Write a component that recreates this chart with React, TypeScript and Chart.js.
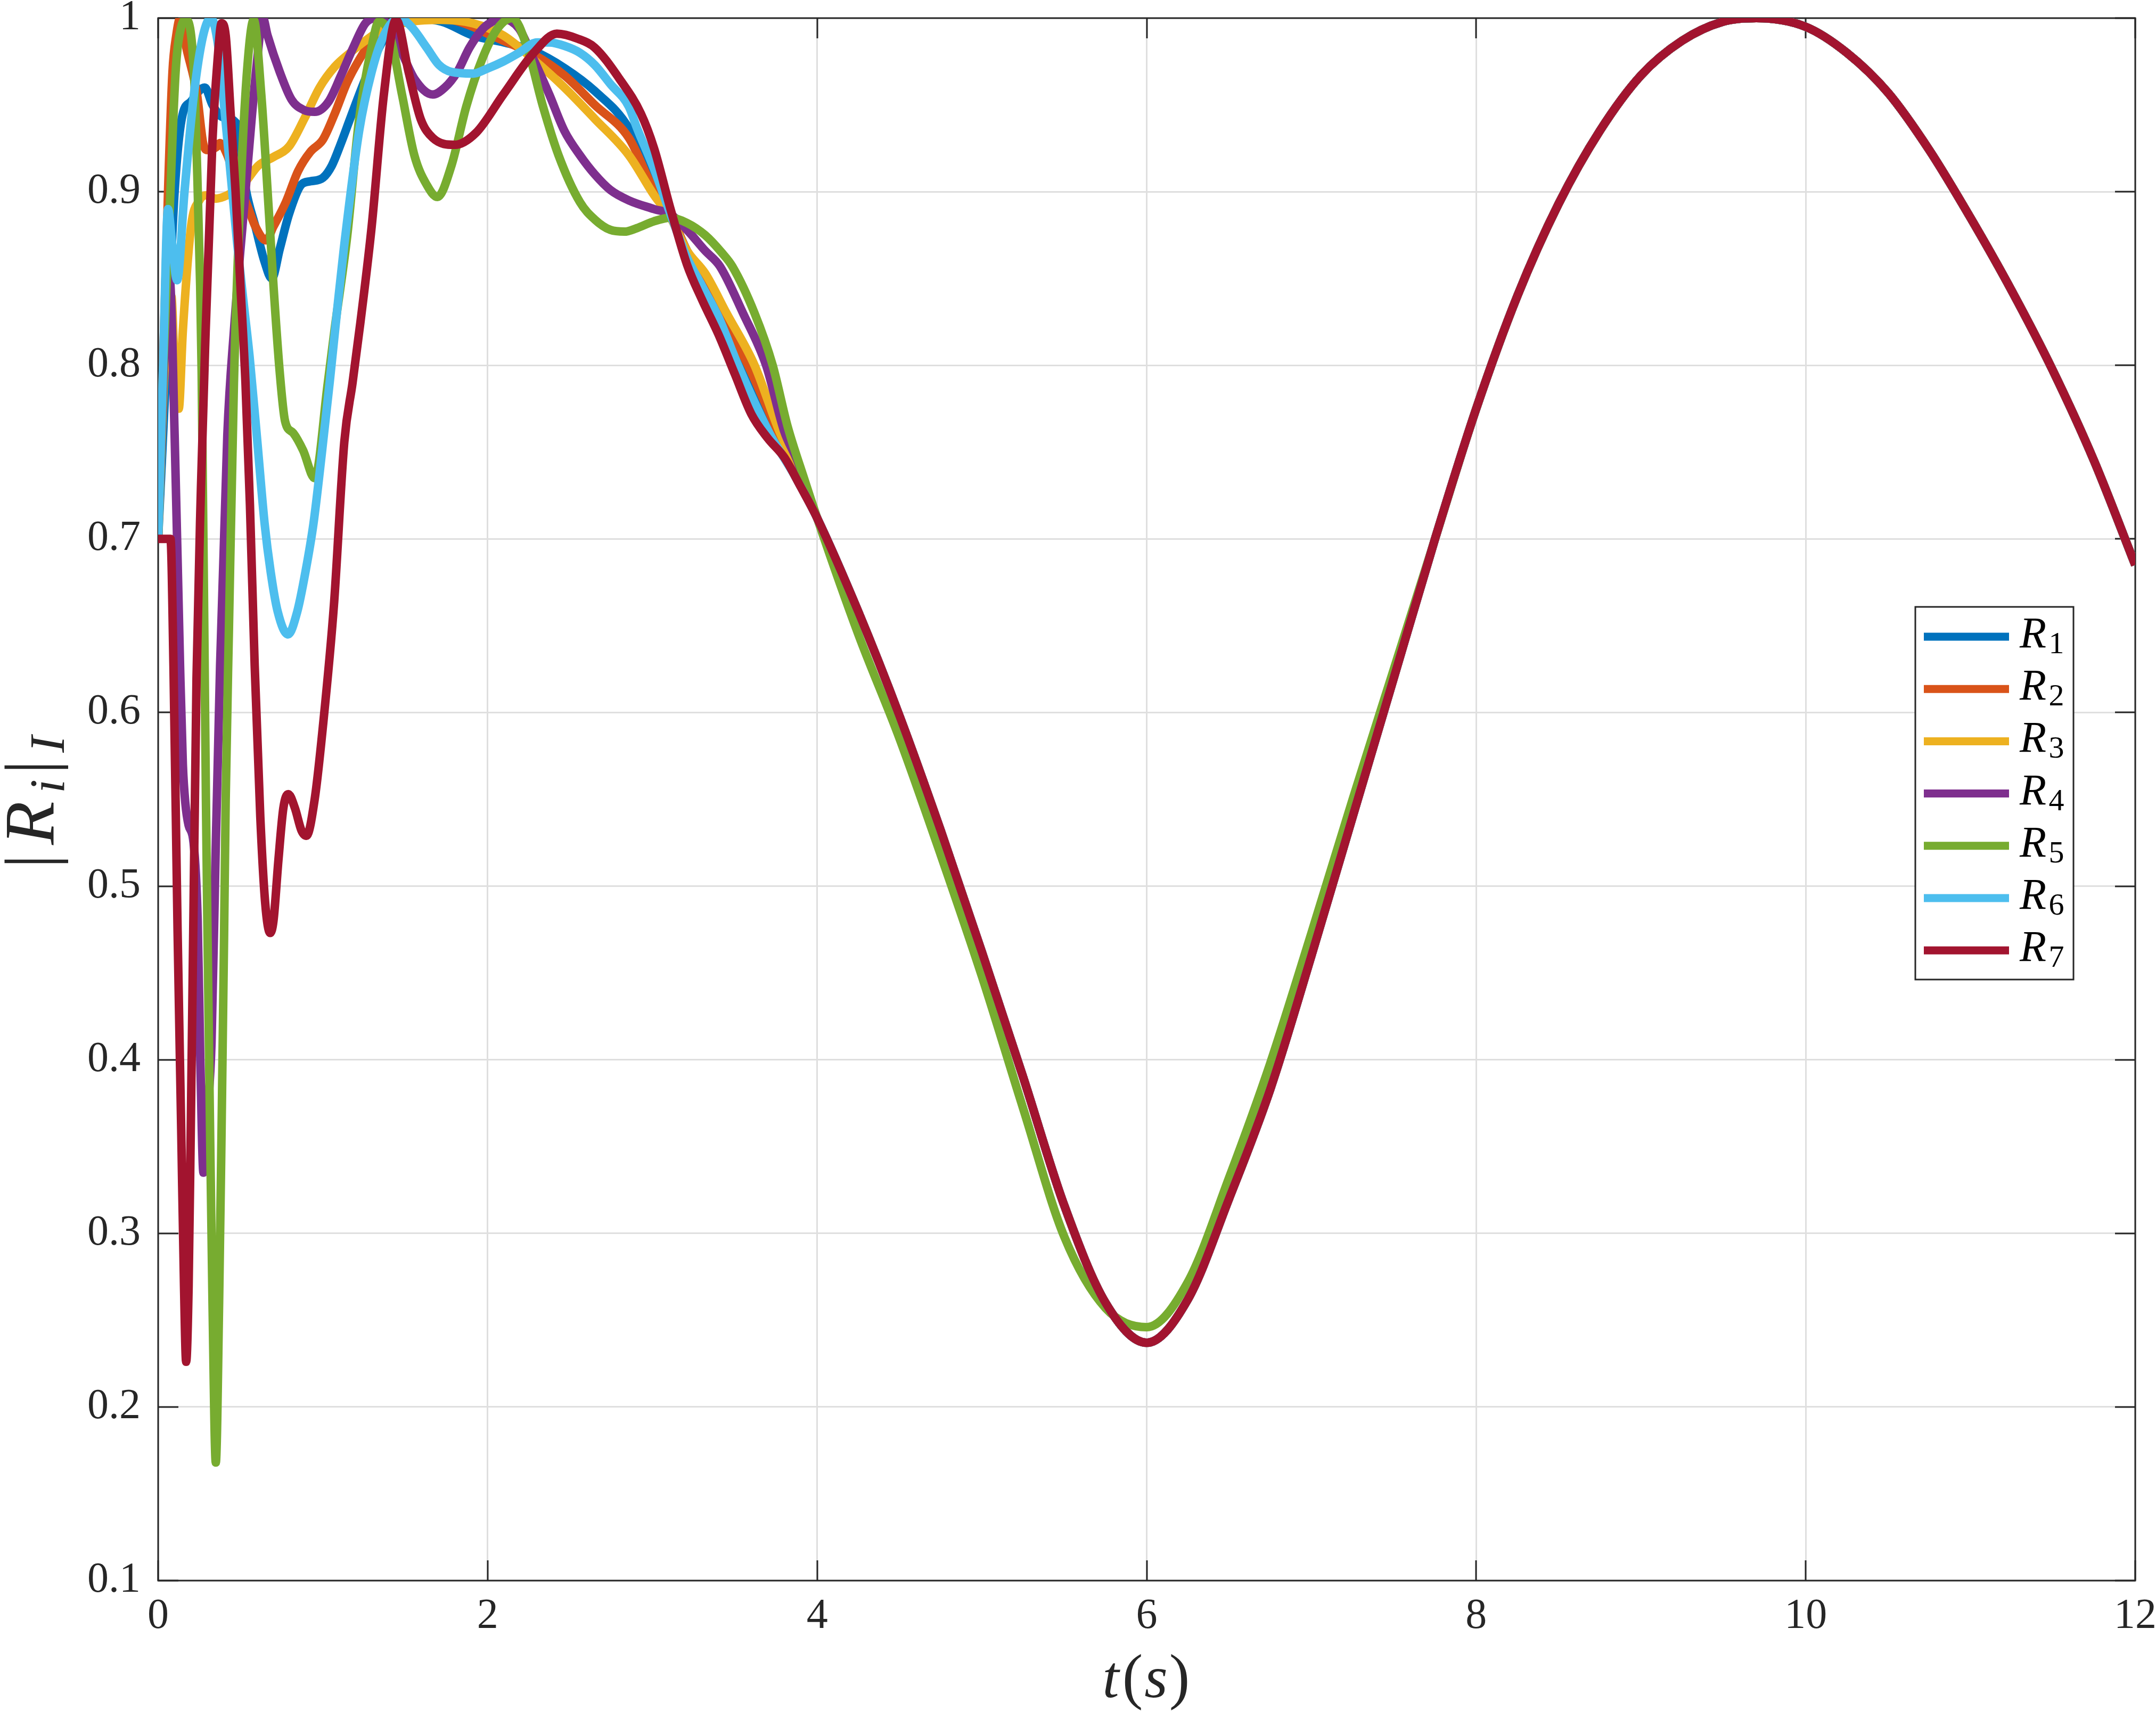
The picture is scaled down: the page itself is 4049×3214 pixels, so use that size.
import React, { useEffect, useRef } from "react";
import { Chart, registerables } from "chart.js";

Chart.register(...registerables);

// ---------------- data ----------------
const SERIES_NAMES = ["R1", "R2", "R3", "R4", "R5", "R6", "R7"];
const SERIES_COLORS = ["#0072BD", "#D95319", "#EDB120", "#7E2F8E", "#77AC30", "#4DBEEE", "#A2142F"];

const X_TICKS = [0, 2, 4, 6, 8, 10, 12];
const Y_TICKS = [0.1, 0.2, 0.3, 0.4, 0.5, 0.6, 0.7, 0.8, 0.9, 1];

// transient part (t from 0 to 4 s), per series
const r1T = [0, 0.05, 0.1, 0.143, 0.2, 0.283, 0.33, 0.39, 0.478, 0.533, 0.59, 0.645, 0.69, 0.738, 0.794, 0.868, 0.924, 1.0, 1.054, 1.11, 1.165, 1.258, 1.37, 1.5, 1.72, 1.91, 2.1, 2.28, 2.47, 2.65, 2.86, 3.01, 3.11, 3.21, 3.3, 3.42, 3.56, 3.72, 3.86, 4.0];
const r1V = [0.70, 0.80, 0.90, 0.942, 0.952, 0.96, 0.95, 0.943, 0.939, 0.901, 0.88, 0.86, 0.85, 0.867, 0.887, 0.904, 0.906, 0.908, 0.915, 0.928, 0.942, 0.965, 0.988, 1.0, 0.998, 0.99, 0.986, 0.981, 0.971, 0.958, 0.936, 0.903, 0.887, 0.866, 0.853, 0.828, 0.8, 0.762, 0.738, 0.712];

const r2T = [0, 0.03, 0.06, 0.087, 0.11, 0.134, 0.171, 0.236, 0.273, 0.3, 0.357, 0.375, 0.42, 0.478, 0.533, 0.59, 0.654, 0.7, 0.775, 0.85, 0.924, 1.0, 1.072, 1.147, 1.22, 1.296, 1.37, 1.48, 1.63, 1.78, 1.91, 2.0, 2.095, 2.28, 2.466, 2.65, 2.857, 3.01, 3.11, 3.21, 3.3, 3.42, 3.58, 3.76, 3.88, 4.0];
const r2V = [0.70, 0.80, 0.90, 0.969, 0.99, 1.0, 0.983, 0.956, 0.928, 0.924, 0.926, 0.928, 0.921, 0.904, 0.894, 0.880, 0.872, 0.880, 0.894, 0.912, 0.923, 0.930, 0.945, 0.963, 0.976, 0.987, 0.994, 1.0, 1.0, 0.999, 0.995, 0.991, 0.987, 0.979, 0.967, 0.950, 0.931, 0.901, 0.887, 0.866, 0.853, 0.83, 0.8, 0.762, 0.738, 0.712];

const r3T = [0, 0.04, 0.08, 0.1, 0.125, 0.15, 0.2, 0.25, 0.3, 0.35, 0.42, 0.515, 0.608, 0.7, 0.794, 0.887, 0.98, 1.072, 1.165, 1.258, 1.37, 1.537, 1.72, 1.91, 2.095, 2.28, 2.466, 2.65, 2.857, 3.01, 3.11, 3.21, 3.32, 3.45, 3.62, 3.77, 3.89, 4.0];
const r3V = [0.70, 0.80, 0.84, 0.80, 0.775, 0.82, 0.88, 0.895, 0.898, 0.896, 0.898, 0.904, 0.915, 0.92, 0.926, 0.942, 0.96, 0.972, 0.98, 0.987, 0.994, 0.998, 0.999, 0.997, 0.99, 0.976, 0.96, 0.942, 0.921, 0.898, 0.885, 0.866, 0.853, 0.83, 0.8, 0.762, 0.738, 0.712];

const r4T = [0, 0.035, 0.07, 0.1, 0.133, 0.15, 0.165, 0.185, 0.215, 0.24, 0.256, 0.275, 0.3, 0.324, 0.349, 0.376, 0.42, 0.46, 0.53, 0.6, 0.636, 0.664, 0.738, 0.81, 0.886, 0.95, 1.035, 1.11, 1.184, 1.258, 1.32, 1.407, 1.48, 1.556, 1.667, 1.74, 1.816, 1.89, 1.983, 2.095, 2.19, 2.28, 2.374, 2.466, 2.56, 2.65, 2.745, 2.857, 3.01, 3.11, 3.21, 3.32, 3.41, 3.55, 3.69, 3.80, 3.88, 4.0];
const r4V = [0.70, 0.80, 0.85, 0.76, 0.627, 0.57, 0.548, 0.535, 0.525, 0.48, 0.40, 0.335, 0.37, 0.41, 0.52, 0.627, 0.76, 0.82, 0.9, 0.975, 1.0, 0.99, 0.969, 0.953, 0.947, 0.946, 0.952, 0.967, 0.983, 0.997, 1.0, 0.995, 0.98, 0.965, 0.956, 0.96, 0.969, 0.983, 0.995, 0.9995, 0.994, 0.976, 0.956, 0.935, 0.921, 0.910, 0.901, 0.895, 0.890, 0.887, 0.878, 0.866, 0.857, 0.83, 0.8, 0.762, 0.745, 0.712];

const r5T = [0, 0.03, 0.069, 0.106, 0.14, 0.171, 0.217, 0.236, 0.255, 0.264, 0.28, 0.29, 0.30, 0.315, 0.33, 0.35, 0.37, 0.385, 0.40, 0.41, 0.43, 0.46, 0.50, 0.54, 0.58, 0.626, 0.673, 0.70, 0.738, 0.77, 0.82, 0.88, 0.95, 1.03, 1.07, 1.147, 1.22, 1.295, 1.34, 1.407, 1.48, 1.555, 1.63, 1.695, 1.78, 1.87, 1.965, 2.06, 2.15, 2.24, 2.336, 2.43, 2.56, 2.65, 2.745, 2.83, 2.905, 3.01, 3.11, 3.21, 3.32, 3.42, 3.485, 3.62, 3.73, 3.82, 3.92, 4.0];
const r5V = [0.70, 0.796, 0.887, 0.969, 0.995, 0.999, 0.969, 0.915, 0.846, 0.796, 0.65, 0.55, 0.47, 0.36, 0.26, 0.168, 0.26, 0.36, 0.47, 0.55, 0.65, 0.79, 0.9, 0.97, 0.999, 0.956, 0.887, 0.846, 0.796, 0.768, 0.761, 0.751, 0.735, 0.79, 0.82, 0.874, 0.942, 0.983, 0.998, 0.99, 0.956, 0.921, 0.904, 0.897, 0.915, 0.949, 0.976, 0.994, 1.0, 0.983, 0.949, 0.921, 0.894, 0.884, 0.878, 0.877, 0.879, 0.883, 0.885, 0.882, 0.875, 0.865, 0.857, 0.83, 0.8, 0.765, 0.735, 0.712];

const r6T = [0, 0.03, 0.06, 0.085, 0.115, 0.16, 0.217, 0.273, 0.32, 0.366, 0.40, 0.44, 0.48, 0.52, 0.555, 0.602, 0.646, 0.683, 0.726, 0.788, 0.844, 0.894, 0.943, 0.993, 1.042, 1.09, 1.128, 1.22, 1.296, 1.37, 1.463, 1.537, 1.63, 1.705, 1.78, 1.91, 2.0, 2.095, 2.19, 2.3, 2.374, 2.466, 2.56, 2.65, 2.745, 2.857, 2.905, 3.01, 3.11, 3.21, 3.3, 3.4, 3.52, 3.71, 3.86, 4.0];
const r6V = [0.70, 0.80, 0.89, 0.87, 0.849, 0.90, 0.956, 0.99, 1.0, 0.983, 0.95, 0.91, 0.87, 0.835, 0.805, 0.756, 0.709, 0.681, 0.658, 0.645, 0.658, 0.681, 0.709, 0.749, 0.791, 0.835, 0.868, 0.935, 0.969, 0.99, 1.0, 0.995, 0.983, 0.973, 0.969, 0.968, 0.971, 0.975, 0.98, 0.986, 0.986, 0.984, 0.98, 0.973, 0.962, 0.949, 0.937, 0.913, 0.887, 0.862, 0.846, 0.828, 0.8, 0.761, 0.737, 0.712];

const r7T = [0, 0.075, 0.093, 0.118, 0.14, 0.157, 0.17, 0.185, 0.198, 0.213, 0.233, 0.26, 0.285, 0.329, 0.36, 0.385, 0.41, 0.44, 0.47, 0.50, 0.53, 0.557, 0.586, 0.62, 0.65, 0.68, 0.70, 0.73, 0.76, 0.79, 0.83, 0.87, 0.9, 0.95, 1.0, 1.067, 1.13, 1.18, 1.228, 1.296, 1.37, 1.444, 1.52, 1.593, 1.667, 1.8, 1.93, 2.095, 2.28, 2.42, 2.55, 2.65, 2.8, 2.93, 3.01, 3.11, 3.21, 3.3, 3.4, 3.5, 3.6, 3.7, 3.8, 3.9, 4.0];
const r7V = [0.70, 0.70, 0.627, 0.474, 0.36, 0.27, 0.226, 0.27, 0.36, 0.474, 0.62, 0.73, 0.81, 0.928, 0.975, 0.997, 0.99, 0.945, 0.9, 0.845, 0.79, 0.72, 0.627, 0.54, 0.49, 0.473, 0.48, 0.515, 0.545, 0.553, 0.545, 0.532, 0.529, 0.55, 0.592, 0.662, 0.756, 0.79, 0.825, 0.88, 0.956, 0.999, 0.969, 0.942, 0.931, 0.927, 0.934, 0.956, 0.98, 0.991, 0.988, 0.983, 0.965, 0.945, 0.925, 0.89, 0.858, 0.838, 0.818, 0.795, 0.772, 0.758, 0.747, 0.73, 0.712];

// common steady part (t > 4 s)
const tailT = [4.25, 4.5, 4.75, 5.0, 5.25, 5.5, 5.75, 6.0, 6.25, 6.5, 6.75, 7.0, 7.25, 7.5, 7.75, 8.0, 8.25, 8.5, 8.75, 9.0, 9.25, 9.5, 9.7, 10.0, 10.25, 10.5, 10.75, 11.0, 11.25, 11.5, 11.75, 12.0];
const tailV = [0.658, 0.598, 0.532, 0.462, 0.390, 0.316, 0.260, 0.237, 0.262, 0.320, 0.383, 0.46, 0.54, 0.62, 0.70, 0.775, 0.84, 0.893, 0.935, 0.967, 0.987, 0.998, 1.0, 0.995, 0.98, 0.957, 0.924, 0.885, 0.843, 0.797, 0.745, 0.685];
const r5TailV = [0.645, 0.585, 0.518, 0.448, 0.372, 0.298, 0.257, 0.246, 0.272, 0.332, 0.398, 0.473, 0.55, 0.625, 0.70, 0.775, 0.84, 0.893, 0.935, 0.967, 0.987, 0.998, 1.0, 0.995, 0.98, 0.957, 0.924, 0.885, 0.843, 0.797, 0.745, 0.685];

const HEADS = [
  [r1T, r1V, tailV],
  [r2T, r2V, tailV],
  [r3T, r3V, tailV],
  [r4T, r4V, tailV],
  [r5T, r5V, r5TailV],
  [r6T, r6V, tailV],
  [r7T, r7V, tailV],
];

// ---------------- styling / layout ----------------
const W = 4049;
const H = 3214;
const AXIS_COLOR = "#262626";
const GRID_COLOR = "#dfdfdf";
const SERIF = '"Liberation Serif", "Times New Roman", serif';
const TICK_LEN = 38;
const LINE_W = 16;

const framePlugin = {
  id: "matlabFrame",
  beforeDatasetsDraw(chart: any) {
    const { ctx, chartArea: a, scales } = chart;
    ctx.save();
    ctx.strokeStyle = AXIS_COLOR;
    ctx.lineWidth = 3;
    ctx.beginPath();
    for (const v of X_TICKS) {
      const x = Math.round(scales.x.getPixelForValue(v));
      ctx.moveTo(x, a.bottom);
      ctx.lineTo(x, a.bottom - TICK_LEN);
      ctx.moveTo(x, a.top);
      ctx.lineTo(x, a.top + TICK_LEN);
    }
    for (const v of Y_TICKS) {
      const y = Math.round(scales.y.getPixelForValue(v));
      ctx.moveTo(a.left, y);
      ctx.lineTo(a.left + TICK_LEN, y);
      ctx.moveTo(a.right, y);
      ctx.lineTo(a.right - TICK_LEN, y);
    }
    ctx.stroke();
    ctx.strokeRect(a.left, a.top, a.right - a.left, a.bottom - a.top);
    ctx.restore();
  },
};

const LEG = { x: 3597, y: 1140, w: 297, h: 700, row0: 1196, gap: 98.2, lx0: 3613, lx1: 3773, tx: 3818 };

const legendPlugin = {
  id: "matlabLegend",
  afterDraw(chart: any) {
    const ctx = chart.ctx;
    ctx.save();
    ctx.fillStyle = "#ffffff";
    ctx.fillRect(LEG.x, LEG.y, LEG.w, LEG.h);
    ctx.strokeStyle = AXIS_COLOR;
    ctx.lineWidth = 3;
    ctx.strokeRect(LEG.x, LEG.y, LEG.w, LEG.h);
    chart.data.datasets.forEach((ds: any, i: number) => {
      const cy = LEG.row0 + i * LEG.gap;
      ctx.strokeStyle = ds.borderColor;
      ctx.lineWidth = 15;
      ctx.lineCap = "butt";
      ctx.beginPath();
      ctx.moveTo(LEG.lx0, cy);
      ctx.lineTo(LEG.lx1, cy);
      ctx.stroke();
      ctx.fillStyle = "#000000";
      ctx.textBaseline = "alphabetic";
      ctx.textAlign = "center";
      ctx.font = `italic 82px ${SERIF}`;
      ctx.fillText(ds.label.charAt(0), LEG.tx, cy + 20);
      ctx.font = `58px ${SERIF}`;
      ctx.fillText(ds.label.slice(1), LEG.tx + 44, cy + 31);
    });
    ctx.restore();
  },
};

type Piece = { s: string; italic: boolean; size: number; at: number; dy: number };
const Y_TITLE: Piece[] = [
  { s: "|", italic: false, size: 132, at: -118, dy: 0 },
  { s: "R", italic: true, size: 134, at: -46, dy: 0 },
  { s: "i", italic: true, size: 94, at: 23, dy: 20 },
  { s: "|", italic: false, size: 132, at: 59, dy: 0 },
  { s: "I", italic: true, size: 94, at: 102, dy: 20 },
];
const X_TITLE: Piece[] = [
  { s: "t", italic: true, size: 112, at: 2086, dy: 0 },
  { s: "(", italic: false, size: 116, at: 2127, dy: 0 },
  { s: "s", italic: true, size: 112, at: 2171, dy: 0 },
  { s: ")", italic: false, size: 116, at: 2215, dy: 0 },
];

function drawPieces(ctx: CanvasRenderingContext2D, pieces: Piece[]) {
  for (const p of pieces) {
    ctx.font = `${p.italic ? "italic " : ""}${p.size}px ${SERIF}`;
    ctx.fillText(p.s, p.at, p.dy);
  }
}

const titlePlugin = {
  id: "matlabTitles",
  afterDraw(chart: any) {
    const ctx = chart.ctx as CanvasRenderingContext2D;
    ctx.save();
    ctx.fillStyle = AXIS_COLOR;
    ctx.textAlign = "center";
    ctx.textBaseline = "alphabetic";
    ctx.save();
    ctx.translate(0, 3188);
    drawPieces(ctx, X_TITLE);
    ctx.restore();
    ctx.save();
    ctx.translate(100, 1500);
    ctx.rotate(-Math.PI / 2);
    drawPieces(ctx, Y_TITLE);
    ctx.restore();
    ctx.restore();
  },
};

export default function App() {
  const canvasRef = useRef<HTMLCanvasElement | null>(null);

  useEffect(() => {
    document.body.style.margin = "0";
    const canvas = canvasRef.current;
    if (!canvas) return;

    const datasets = HEADS.map(([ts, vs, tv], i) => ({
      label: SERIES_NAMES[i],
      data: [
        ...ts.map((t, k) => ({ x: t, y: vs[k] })),
        ...tailT.map((t, k) => ({ x: t, y: tv[k] })),
      ],
      borderColor: SERIES_COLORS[i],
      backgroundColor: SERIES_COLORS[i],
      borderWidth: LINE_W,
      pointRadius: 0,
      fill: false,
      cubicInterpolationMode: "monotone" as const,
      borderJoinStyle: "round" as const,
      borderCapStyle: "butt" as const,
      order: 6 - i,
    }));

    const tickFont = { family: SERIF, size: 80 };

    const chart = new Chart(canvas, {
      type: "line",
      data: { datasets },
      options: {
        responsive: false,
        animation: false,
        devicePixelRatio: 1,
        layout: { padding: { left: 0, top: 34, right: 39, bottom: 0 } },
        plugins: { legend: { display: false }, tooltip: { enabled: false } },
        scales: {
          x: {
            type: "linear",
            min: 0,
            max: 12,
            ticks: {
              stepSize: 2,
              padding: 20,
              font: tickFont,
              color: AXIS_COLOR,
              maxRotation: 0,
              autoSkip: false,
              callback: (v: any) => String(v),
            },
            grid: { color: GRID_COLOR, lineWidth: 3, drawTicks: false },
            border: { display: false },
            afterFit: (s: any) => {
              s.height = H - 2969;
              s.paddingLeft = 0;
              s.paddingRight = 0;
            },
          },
          y: {
            type: "linear",
            min: 0.1,
            max: 1,
            ticks: {
              stepSize: 0.1,
              padding: 33,
              font: tickFont,
              color: AXIS_COLOR,
              autoSkip: false,
              callback: (v: any) => (Math.abs(Number(v) - 1) < 1e-9 ? "1" : Number(v).toFixed(1)),
            },
            grid: { color: GRID_COLOR, lineWidth: 3, drawTicks: false },
            border: { display: false },
            afterFit: (s: any) => {
              s.width = 297;
              s.paddingTop = 0;
              s.paddingBottom = 0;
            },
          },
        },
      },
      plugins: [framePlugin, legendPlugin, titlePlugin],
    });

    return () => chart.destroy();
  }, []);

  return (
    <div style={{ position: "absolute", left: 0, top: 0, width: W, height: H, background: "#ffffff" }}>
      <canvas ref={canvasRef} width={W} height={H} style={{ display: "block", width: W, height: H }} />
    </div>
  );
}
